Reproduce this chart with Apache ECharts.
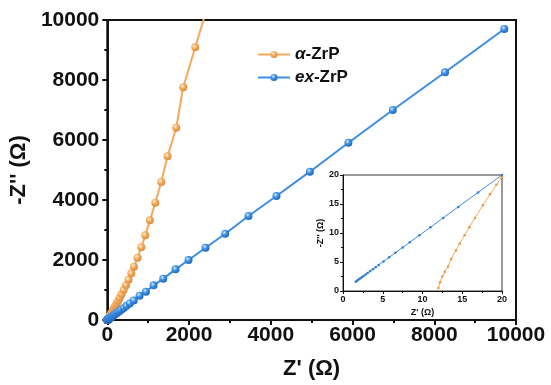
<!DOCTYPE html>
<html>
<head>
<meta charset="utf-8">
<script src="https://cdn.jsdelivr.net/npm/echarts@6/dist/echarts.min.js"></script>
<style>
  html, body { margin: 0; padding: 0; background: #fff; }
  #chart { width: 551px; height: 385px; }
</style>
</head>
<body>
<div id="chart"></div>
<script>
// Nyquist data (Z', -Z'' in ohm)
const alphaX = [12.0, 12.2, 12.5, 12.8, 13.2, 13.6, 14.2, 14.7, 15.3, 15.9, 16.6, 17.6, 18.5, 19.3, 20,
  21.5, 23, 25, 27, 29, 33, 36, 41, 46, 52, 59, 67, 77, 88, 101, 116, 133, 153, 176, 201,
  231, 266, 305, 350, 400, 458, 520, 587, 652, 742, 831, 929, 1043, 1174, 1320, 1475, 1687, 1858, 2152, 2530];
const alphaY = [0.5, 1.5, 2.5, 3.3, 4.2, 5.5, 7, 8.2, 9.6, 11, 12.6, 14.8, 16.7, 18.3, 19.8,
  23, 27, 32, 38, 45, 54, 64, 76, 89, 105, 123, 144, 168, 196, 228, 265, 308, 358, 415, 480,
  555, 645, 745, 865, 1000, 1160, 1340, 1555, 1778, 2078, 2422, 2822, 3322, 3911, 4600, 5456, 6411, 7757, 9089, 10800];

const exX = [1.6, 1.75, 1.9, 2.05, 2.2, 2.4, 2.6, 2.85, 3.1, 3.4, 3.75, 4.1, 4.5, 5.1, 5.8, 6.6, 7.5, 8.4, 9.6, 11,
  12.6, 14.5, 17, 20, 23.5, 27.5, 32, 38, 44, 52, 61, 71, 83, 97, 114, 133, 156, 182, 214, 250,
  293, 343, 402, 470, 550, 648, 790, 945, 1133, 1369, 1670, 1988, 2404, 2885, 3455, 4139, 4956, 5900, 6985, 8264, 9714];
const exY = [1.6, 1.75, 1.9, 2.05, 2.2, 2.4, 2.6, 2.85, 3.1, 3.4, 3.75, 4.1, 4.5, 5.1, 5.8, 6.6, 7.5, 8.4, 9.6, 11,
  12.6, 14.5, 17, 20, 23.6, 27.6, 32.2, 38, 44.3, 52, 61, 71.5, 83.5, 97.5, 114, 134, 157, 183, 215, 251,
  294, 345, 404, 472, 553, 652, 811, 944, 1155, 1378, 1689, 2000, 2410, 2877, 3467, 4133, 4944, 5910, 7000, 8257, 9700];

const seriesNames = ['α-ZrP', 'ex-ZrP'];
const mainTicks = { min: 0, max: 10000, interval: 2000 };
const insetTicks = { min: 0, max: 20, interval: 5 };

const ORANGE = '#f4a95b';
const BLUE = '#3b8ee2';
const FONT = 'Liberation Sans';

function zip(xs, ys) {
  return xs.map((x, i) => [x, ys[i]]);
}

function ball(light, mid, dark) {
  return {
    type: 'radial', x: 0.38, y: 0.35, r: 0.7,
    colorStops: [
      { offset: 0, color: light },
      { offset: 0.45, color: mid },
      { offset: 1, color: dark }
    ]
  };
}

function axisBase(ticks, fontSize, lineWidth, name, nameGap, nameSize, gridIndex, margin) {
  return {
    gridIndex,
    type: 'value',
    min: ticks.min,
    max: ticks.max,
    interval: ticks.interval,
    name,
    nameLocation: 'middle',
    nameGap,
    nameTextStyle: { fontFamily: FONT, fontWeight: 'bold', fontSize: nameSize, color: '#111' },
    axisLine: { show: true, onZero: false, lineStyle: { color: '#111', width: lineWidth } },
    axisTick: { show: true, inside: false, length: gridIndex ? 3 : 5, lineStyle: { color: '#111', width: lineWidth } },
    minorTick: { show: true, splitNumber: 2, length: gridIndex ? 2 : 3, lineStyle: { color: '#111', width: lineWidth } },
    splitLine: { show: false },
    axisLabel: {
      fontFamily: FONT, fontWeight: 'bold', fontSize, color: '#111',
      margin, showMinLabel: true, showMaxLabel: true,
      formatter: (v) => String(v)
    }
  };
}

const chart = echarts.init(document.getElementById('chart'), null, { renderer: 'canvas' });

const orangeBall = ball('#fff1dc', ORANGE, '#d9893a');
const blueBall = ball('#d8ebff', BLUE, '#1d66b8');

chart.setOption({
  animation: false,
  backgroundColor: '#fff',
  legend: {
    left: 252,
    top: 41,
    orient: 'vertical',
    itemWidth: 32,
    itemHeight: 9,
    itemGap: 6,
    data: seriesNames,
    formatter: (n) => n === 'α-ZrP' ? '{i|α}-ZrP' : '{i|ex}-ZrP',
    textStyle: {
      fontFamily: FONT, fontWeight: 'bold', fontSize: 17, color: '#111',
      rich: { i: { fontFamily: FONT, fontWeight: 'bold', fontStyle: 'italic', fontSize: 17, color: '#111' } }
    }
  },
  grid: [
    { left: 107, right: 35, top: 20, bottom: 65, show: true, borderColor: '#111', borderWidth: 2, backgroundColor: 'transparent' },
    { left: 343, right: 49, top: 175, bottom: 94, show: true, borderColor: '#333', borderWidth: 1, backgroundColor: '#fff', z: 5 }
  ],
  xAxis: [
    axisBase(mainTicks, 21, 2, "Z' (Ω)", 38, 22, 0, 5),
    Object.assign(axisBase(insetTicks, 9, 1, "Z' (Ω)", 17, 9, 1, 4), { z: 6 })
  ],
  yAxis: [
    axisBase(mainTicks, 21, 2, "-Z'' (Ω)", 57, 22, 0, 8),
    Object.assign(axisBase(insetTicks, 9, 1, "-Z'' (Ω)", 14, 9, 1, 4), { z: 6 })
  ],
  series: [
    {
      name: seriesNames[0], type: 'line', xAxisIndex: 0, yAxisIndex: 0,
      data: zip(alphaX, alphaY), clip: true,
      symbol: 'circle', symbolSize: 8, showAllSymbol: true,
      lineStyle: { color: ORANGE, width: 2 },
      itemStyle: { color: orangeBall }
    },
    {
      name: seriesNames[1], type: 'line', xAxisIndex: 0, yAxisIndex: 0,
      data: zip(exX, exY), clip: true,
      symbol: 'circle', symbolSize: 8, showAllSymbol: true,
      lineStyle: { color: BLUE, width: 2 },
      itemStyle: { color: blueBall }
    },
    {
      name: 'inset-α', type: 'line', xAxisIndex: 1, yAxisIndex: 1, z: 7,
      data: zip(alphaX, alphaY), clip: true,
      symbol: 'circle', symbolSize: 2.5, showAllSymbol: true,
      lineStyle: { color: ORANGE, width: 1 },
      itemStyle: { color: '#e9953f' }
    },
    {
      name: 'inset-ex', type: 'line', xAxisIndex: 1, yAxisIndex: 1, z: 7,
      data: zip(exX, exY), clip: true,
      symbol: 'circle', symbolSize: 2.5, showAllSymbol: true,
      lineStyle: { color: BLUE, width: 1 },
      itemStyle: { color: '#2f7fd2' }
    }
  ]
});
</script>
</body>
</html>
